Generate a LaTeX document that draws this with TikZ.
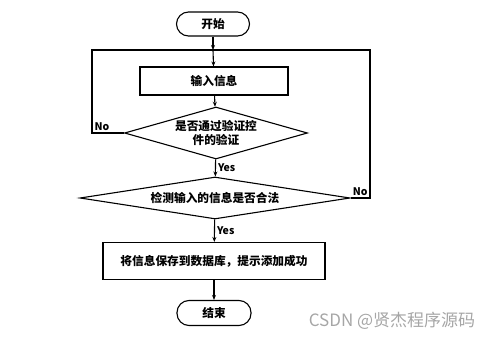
\documentclass[tikz,border=0pt]{standalone}
\usepackage{fontspec}
\newfontfamily\cjk{Noto Sans CJK SC}
\usetikzlibrary{positioning, arrows.meta, shapes.geometric}

\begin{document}
\begin{tikzpicture}[x=1pt, y=-1pt, font=\cjk\bfseries\fontsize{11.7}{14.5}\selectfont,
    line width=1.1pt, >={Stealth[length=5pt, width=4pt]},
    term/.style={rectangle, draw, rounded corners=12pt, inner sep=0pt},
    proc/.style={rectangle, draw, inner sep=0pt},
    test/.style={diamond, draw, inner sep=0pt, align=center},
    lbl/.style={inner sep=2pt, font=\cjk\bfseries\fontsize{10.5}{12}\selectfont}]
    \useasboundingbox (0,0) rectangle (499,340);
    % nodes
    \node[term, minimum width=73pt, minimum height=24pt] (start) at (213,24) {开始};
    \node[proc, minimum width=148pt, minimum height=28pt] (input) at (214,81) {输入信息};
    \node[test, shape aspect=3.5, minimum width=183pt, minimum height=52pt] (valid) at (216,133) {是否通过验证控\\件的验证};
    \node[test, shape aspect=6.4, minimum width=270pt, minimum height=42pt] (legal) at (215,198) {检测输入的信息是否合法};
    \node[proc, minimum width=222pt, minimum height=37pt] (save) at (214,261) {将信息保存到数据库，提示添加成功};
    \node[term, minimum width=74pt, minimum height=25pt] (stop) at (214,313) {结束};
    \coordinate (join) at (213,50);
    \coordinate (lcorner) at (92,133);
    \coordinate (rcorner) at (370,198);
    % connectors
    \draw[->] (start) -- (join);
    \draw[->] (join) -- (input);
    \draw[->] (input) -- (valid);
    \draw[->] (valid) -- node[lbl, anchor=west] {Yes} (legal);
    \draw[->] (legal) -- node[lbl, anchor=west] {Yes} (save);
    \draw[->] (save) -- (stop);
    \draw (valid.west) -- (lcorner) |- (join);
    \node[lbl, anchor=south west] at (lcorner) {No};
    \draw (legal.east) -- node[lbl, anchor=south] {No} (rcorner) |- (join);
    % watermark
    \node[font=\cjk\fontsize{17}{20}\selectfont, text=black!35] (mark) at (392,321) {CSDN @贤杰程序源码};
\end{tikzpicture}
\end{document}
